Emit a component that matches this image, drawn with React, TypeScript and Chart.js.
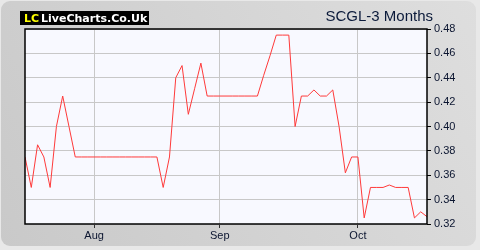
import { useEffect, useRef } from 'react';
import { Chart, registerables } from 'chart.js';
Chart.register(...registerables);

// Daily closing prices (trading days)
const prices: number[] = [
  0.375, 0.35, 0.385, 0.375, 0.35, 0.40, 0.425, 0.40,
  0.375, 0.375, 0.375, 0.375, 0.375, 0.375, 0.375, 0.375, 0.375, 0.375, 0.375, 0.375, 0.375, 0.375,
  0.35, 0.375, 0.44, 0.45, 0.41, 0.431, 0.452,
  0.425, 0.425, 0.425, 0.425, 0.425, 0.425, 0.425, 0.425, 0.425,
  0.442, 0.458, 0.475, 0.475, 0.475, 0.40, 0.425, 0.425, 0.43, 0.425, 0.425, 0.43,
  0.40, 0.362, 0.375, 0.375, 0.325, 0.35, 0.35, 0.35, 0.352, 0.35, 0.35, 0.35,
  0.325, 0.33, 0.326,
];
const monthTickIndex: number[] = [11, 31, 53];
const monthLabels: string[] = ['Aug', 'Sep', 'Oct'];
const yMin = 0.32;
const yMax = 0.48;
const yStep = 0.02;
const titleText = 'SCGL-3 Months';
const logoLC = 'LC';
const logoText = 'LiveCharts.Co.Uk';

export default function App() {
  const ref = useRef<HTMLCanvasElement | null>(null);
  useEffect(() => {
    document.body.style.margin = '0';
    const canvas = ref.current;
    if (!canvas) return;
    const bgPlugin = {
      id: 'bgPlugin',
      beforeDraw(chart: any) {
        const ctx = chart.ctx as CanvasRenderingContext2D;
        const { width, height } = chart;
        ctx.save();
        ctx.fillStyle = '#e8e8e8';
        ctx.fillRect(0, 0, width, height);
        const g = ctx.createLinearGradient(0, height, width, 0);
        g.addColorStop(0, '#c9c9c9');
        g.addColorStop(1, '#dedede');
        ctx.fillStyle = g;
        ctx.beginPath();
        (ctx as any).roundRect(1, 1, width - 5, height - 5, 9);
        ctx.fill();
        const a = chart.chartArea;
        ctx.fillStyle = '#f8f9ff';
        ctx.fillRect(a.left, a.top, a.right - a.left, a.bottom - a.top);
        ctx.restore();
      },
      afterDraw(chart: any) {
        const ctx = chart.ctx as CanvasRenderingContext2D;
        const a = chart.chartArea;
        ctx.save();
        ctx.strokeStyle = '#000';
        ctx.lineWidth = 1.5;
        ctx.strokeRect(a.left, a.top, a.right - a.left, a.bottom - a.top);
        // title
        ctx.fillStyle = '#0b1a3a';
        ctx.font = '15px "Liberation Sans", Arial, sans-serif';
        ctx.textAlign = 'right';
        ctx.textBaseline = 'alphabetic';
        ctx.fillText(titleText, 433, 21);
        // logo
        ctx.fillStyle = '#000';
        ctx.fillRect(20, 11, 129, 14);
        ctx.textAlign = 'left';
        ctx.font = 'bold 11px "DejaVu Sans", sans-serif';
        ctx.fillStyle = '#ffff00';
        ctx.fillText(logoLC, 24, 22);
        ctx.fillStyle = '#ffffff';
        ctx.fillText(logoText, 41, 22);
        ctx.restore();
      },
    };
    const chart = new Chart(canvas, {
      type: 'line',
      data: {
        datasets: [
          {
            data: prices.map((v, i) => ({ x: i, y: v })),
            borderColor: '#ff3a3a',
            borderWidth: 1,
            pointRadius: 0,
            tension: 0,
            fill: false,
          },
        ],
      },
      options: {
        responsive: false,
        animation: false,
        devicePixelRatio: 1,
        layout: { padding: { left: 25, top: 29, right: 0, bottom: 0 } },
        plugins: { legend: { display: false }, tooltip: { enabled: false }, title: { display: false } },
        scales: {
          x: {
            type: 'linear',
            min: 0,
            max: prices.length - 1,
            afterBuildTicks(scale: any) {
              scale.ticks = monthTickIndex.map((v) => ({ value: v }));
            },
            afterFit(scale: any) {
              scale.height = 26;
            },
            ticks: {
              autoSkip: false,
              maxRotation: 0,
              padding: 1,
              color: '#0b1530',
              font: { family: '"Liberation Sans", Arial, sans-serif', size: 11 },
              callback(value: any) {
                const idx = monthTickIndex.indexOf(Number(value));
                return idx >= 0 ? monthLabels[idx] : '';
              },
            },
            grid: { color: '#c8c8c8', lineWidth: 1, tickLength: 4, tickColor: '#333' },
            border: { display: false },
          },
          y: {
            position: 'right',
            min: yMin,
            max: yMax,
            afterFit(scale: any) {
              scale.width = 53;
            },
            ticks: {
              stepSize: yStep,
              padding: 3,
              color: '#0b1530',
              font: { family: '"Liberation Sans", Arial, sans-serif', size: 11 },
              callback(value: any) {
                return Number(value).toFixed(2);
              },
            },
            grid: { color: '#c8c8c8', lineWidth: 1, tickLength: 4, tickColor: '#000' },
            border: { display: false },
          },
        },
      },
      plugins: [bgPlugin],
    });
    return () => chart.destroy();
  }, []);
  return <canvas ref={ref} width={480} height={250} style={{ display: 'block' }} />;
}
